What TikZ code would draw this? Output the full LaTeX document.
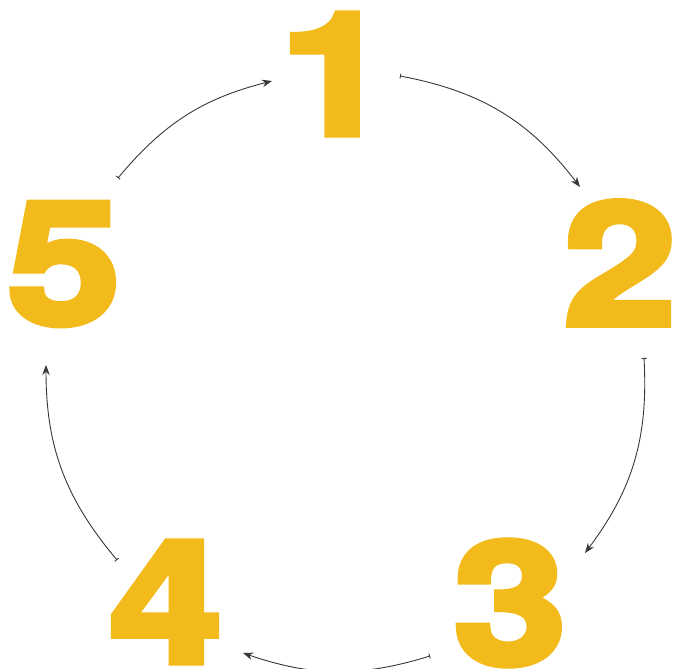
\documentclass[tikz,border=0pt]{standalone}
\usepackage{fontspec}
\usepackage{xcolor}
\usetikzlibrary{arrows.meta}
\newfontfamily\digitfont{TeX Gyre Heros Bold}[FakeBold=4, FakeStretch=1.2]
\definecolor{stepyellow}{RGB}{242,186,26}
\definecolor{linkgray}{RGB}{55,55,55}

\begin{document}
\begin{tikzpicture}[x=1pt, y=-1pt,
    num/.style={inner sep=0pt, text=stepyellow, font=\digitfont\fontsize{170}{170}\selectfont},
    link/.style={draw=linkgray, line width=0.9pt,
      {Bar[width=5pt, line width=0.9pt]}-{Stealth[length=10pt, width=7.5pt]}}]
  \useasboundingbox (0,0) rectangle (675,669);
  \node[num] (n1) at (336, 74)  {1};
  \node[num] (n2) at (620, 263) {2};
  \node[num] (n3) at (510, 603) {3};
  \node[num] (n4) at (166, 602) {4};
  \node[num] (n5) at (64, 264)  {5};
  \coordinate (s12) at (400, 76);  \coordinate (e12) at (580, 187);
  \coordinate (s23) at (644, 358); \coordinate (e23) at (585, 553);
  \coordinate (s34) at (430, 656); \coordinate (e34) at (243, 653);
  \coordinate (s45) at (117, 560); \coordinate (e45) at (46, 365);
  \coordinate (s51) at (118, 178); \coordinate (e51) at (272, 81);
  \draw[link] (s12) to[bend left=21] (e12);
  \draw[link] (s23) to[bend left=20] (e23);
  \draw[link] (s34) to[bend left=18] (e34);
  \draw[link] (s45) to[bend left=20] (e45);
  \draw[link] (s51) to[bend left=18] (e51);
\end{tikzpicture}
\end{document}
